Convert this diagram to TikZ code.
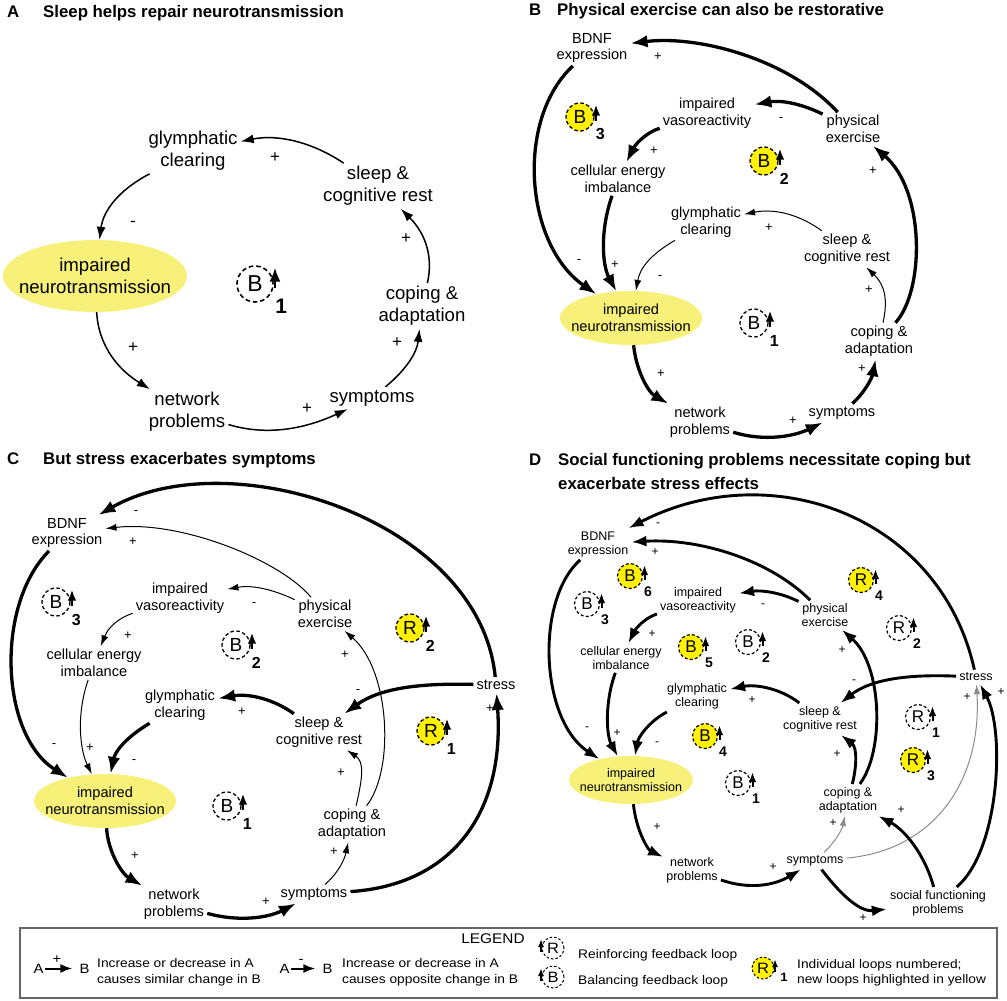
\documentclass[tikz,border=0pt]{standalone}
\usepackage{fontspec}
\setmainfont{Liberation Sans}
\newfontfamily\legfont[FakeStretch=1.1]{Liberation Sans}
\usetikzlibrary{arrows.meta,shapes.geometric,calc}
\definecolor{ellyel}{HTML}{F7F17A}
\definecolor{loopyel}{HTML}{FFF100}
\newcommand\fA{\fontsize{18.6}{22}\selectfont}
\newcommand\fB{\fontsize{14.6}{16.5}\selectfont}
\newcommand\fD{\fontsize{12.5}{14}\selectfont}
\newcommand\fT{\fontsize{16.8}{20}\selectfont\bfseries}
\newcommand\fL{\legfont\fontsize{12.5}{15.5}\selectfont}
\tikzset{
 tA/.style={align=center,inner sep=3pt,font=\fA},
 tB/.style={align=center,inner sep=3pt,font=\fB},
 tD/.style={align=center,inner sep=3pt,font=\fD},
 sA/.style={inner sep=0pt,font=\fontsize{17}{17}\selectfont},
 sB/.style={inner sep=0pt,font=\fontsize{13}{13}\selectfont},
 sD/.style={inner sep=0pt,font=\fontsize{12}{12}\selectfont},
 ttl/.style={inner sep=0pt,anchor=base west,font=\fT},
 ell/.style={ellipse,fill=ellyel,inner sep=0pt},
 arA/.style={line width=1.5pt,-{Latex[length=13pt,width=9pt]}},
 thk/.style={line width=3.3pt,-{Latex[length=17pt,width=12.5pt]}},
 thkD/.style={line width=2.9pt,-{Latex[length=15pt,width=11pt]}},
 thn/.style={line width=1pt,-{Latex[length=11pt,width=7pt]}},
 gry/.style={line width=1pt,draw=black!45,-{Latex[length=10pt,width=6.5pt]}},
 lcA/.style={circle,draw,line width=1.6pt,dash pattern=on 4.5pt off 3pt,minimum size=36pt,inner sep=0pt,font=\fontsize{23}{23}\selectfont},
 laA/.style={line width=2.6pt,-{Latex[length=14pt,width=11pt]}},
 lnA/.style={inner sep=0pt,font=\bfseries\fontsize{21}{21}\selectfont},
 lcB/.style={circle,draw,line width=1.3pt,dash pattern=on 3.5pt off 2.5pt,minimum size=28pt,inner sep=0pt,font=\fontsize{19}{19}\selectfont},
 laB/.style={line width=2.2pt,-{Latex[length=11pt,width=8.5pt]}},
 lnB/.style={inner sep=0pt,font=\bfseries\fontsize{16}{16}\selectfont},
 lcD/.style={circle,draw,line width=1.2pt,dash pattern=on 3pt off 2.2pt,minimum size=25pt,inner sep=0pt,font=\fontsize{17}{17}\selectfont},
 laD/.style={line width=2pt,-{Latex[length=10pt,width=7.5pt]}},
 lnD/.style={inner sep=0pt,font=\bfseries\fontsize{14}{14}\selectfont},
 lcL/.style={circle,draw,line width=1pt,dash pattern=on 2.5pt off 2pt,minimum size=22pt,inner sep=0pt,font=\legfont\fontsize{15}{15}\selectfont},
 laL/.style={line width=1.6pt,-{Latex[length=8pt,width=6pt]}},
 lt/.style={inner sep=0pt,anchor=base west,font=\fL},
 lg/.style={inner sep=1pt,font=\legfont\fontsize{13.5}{13.5}\selectfont},
 legarr/.style={line width=2pt,-{Latex[length=12pt,width=9pt]}},
}
\newcommand\lp[8]{%
  \node[lc#8,fill=#7] (#1) at (#2,#3) {#5};
  \draw[la#8] ([shift={(#4+2,4)}]#1.center) -- ([shift={(#4+2,-#4+1.5)}]#1.center);
  \node[ln#8] (#1n) at ([shift={(1.45*#4,1.25*#4)}]#1.center) {#6};
}
\begin{document}
\begin{tikzpicture}[x=1pt,y=-1pt]
\fill[white] (0,0) rectangle (1007,1001);
\useasboundingbox (0,0) rectangle (1007,1001);

% ---------------- Titles
\node[ttl] (tA) at (7,17) {A};
\node[ttl] (tAt) at (43,17) {Sleep helps repair neurotransmission};
\node[ttl] (tB) at (529,16) {B};
\node[ttl] (tBt) at (557,16) {Physical exercise can also be restorative};
\node[ttl] (tC) at (7,464) {C};
\node[ttl] (tCt) at (43,464) {But stress exacerbates symptoms};
\node[ttl] (tD) at (529,465) {D};
\node[ttl] (tDt) at (558,465) {Social functioning problems necessitate coping but};
\node[ttl] (tDt2) at (558,489) {exacerbate stress effects};

% ---------------- Panel A
\node[ell,minimum width=184pt,minimum height=72pt] (Aimp) at (95,276) {};
\node[tA] (Aimpt) at (Aimp) {impaired\\neurotransmission};
\node[tA] (Aglym) at (193,151) {glymphatic\\clearing};
\node[tA] (Asleep) at (378,186) {sleep \&\\cognitive rest};
\node[tA] (Acop) at (422,306) {coping \&\\adaptation};
\node[tA] (Anet) at (187,412) {network\\problems};
\node[tA] (Asym) at (372,398) {symptoms};
\draw[arA] (Asleep) .. controls (312,142) and (278,134) .. (Aglym);
\draw[arA] (Aglym) .. controls (117,191) and (103,212) .. (Aimp);
\draw[arA] (Aimp) .. controls (98,341) and (114,367) .. (Anet);
\draw[arA] (Anet) .. controls (263,435) and (300,431) .. (Asym);
\draw[arA] (Asym) .. controls (407,369) and (417,352) .. (Acop);
\draw[arA] (Acop) .. controls (433,259) and (427,235) .. (Asleep);
\node[sA] (As1) at (275,158) {+};
\node[sA] (As2) at (133,224) {-};
\node[sA] (As3) at (133,348) {+};
\node[sA] (As4) at (307,409) {+};
\node[sA] (As5) at (397,343) {+};
\node[sA] (As6) at (406,239) {+};
\lp{AL1}{255}{284}{18}{B}{1}{white}{A}

% ---------------- Panel B
\node[ell,minimum width=142pt,minimum height=54pt] (Bimp) at (631,318) {};
\node[tB] (Bimpt) at (Bimp) {impaired\\neurotransmission};
\node[tB] (Bbdnf) at (592,48) {BDNF\\expression};
\node[tB] (Bphys) at (853,129) {physical\\exercise};
\node[tB] (Bvaso) at (707,113) {impaired\\vasoreactivity};
\node[tB] (Bcell) at (618,179) {cellular energy\\imbalance};
\node[tB] (Bglym) at (706,222) {glymphatic\\clearing};
\node[tB] (Bsleep) at (847,249) {sleep \&\\cognitive rest};
\node[tB] (Bcop) at (879,341) {coping \&\\adaptation};
\node[tB] (Bnet) at (700,422) {network\\problems};
\node[tB] (Bsym) at (842,413) {symptoms};
\draw[thk] (Bphys) .. controls (790,60) and (700,35) .. (Bbdnf);
\draw[thk] (Bphys) .. controls (800,103) and (780,100) .. (Bvaso);
\draw[thk] (Bvaso) .. controls (645,133) and (635,145) .. (Bcell);
\draw[thk] (Bbdnf) .. controls (515,120) and (525,245) .. (Bimp);
\draw[thk] (Bcell) .. controls (600,230) and (602,265) .. (Bimp);
\draw[thn] (Bglym) .. controls (650,255) and (640,268) .. (Bimp);
\draw[thn] (Bsleep) .. controls (800,215) and (775,208) .. (Bglym);
\draw[thn] (Bcop) .. controls (888,300) and (885,285) .. (Bsleep);
\draw[thk] (Bcop) .. controls (925,290) and (925,190) .. (Bphys);
\draw[thk] (Bimp) .. controls (636,370) and (648,392) .. (Bnet);
\draw[thk] (Bnet) .. controls (765,442) and (795,436) .. (Bsym);
\draw[thk] (Bsym) .. controls (865,392) and (872,378) .. (Bcop);
\node[sB] (Bs1) at (658,57) {+};
\node[sB] (Bs2) at (781,120) {-};
\node[sB] (Bs3) at (654,151) {+};
\node[sB] (Bs4) at (769,228) {+};
\node[sB] (Bs5) at (873,171) {+};
\node[sB] (Bs6) at (579,262) {-};
\node[sB] (Bs7) at (615,265) {+};
\node[sB] (Bs8) at (660,278) {-};
\node[sB] (Bs9) at (869,290) {+};
\node[sB] (Bs10) at (661,374) {+};
\node[sB] (Bs11) at (793,421) {+};
\node[sB] (Bs12) at (862,369) {+};
\lp{BL3}{580}{117}{14}{B}{3}{loopyel}{B}
\lp{BL2}{764}{161}{14}{B}{2}{loopyel}{B}
\lp{BL1}{754}{323}{14}{B}{1}{white}{B}

% ---------------- Panel C
\node[ell,minimum width=142pt,minimum height=54pt] (Cimp) at (105,801) {};
\node[tB] (Cimpt) at (Cimp) {impaired\\neurotransmission};
\node[tB] (Cbdnf) at (67,533) {BDNF\\expression};
\node[tB] (Cphys) at (325,614) {physical\\exercise};
\node[tB] (Cvaso) at (180,598) {impaired\\vasoreactivity};
\node[tB] (Ccell) at (94,663) {cellular energy\\imbalance};
\node[tB] (Cglym) at (180,705) {glymphatic\\clearing};
\node[tB] (Csleep) at (319,732) {sleep \&\\cognitive rest};
\node[tB] (Cstress) at (496,685) {stress};
\node[tB] (Ccop) at (352,824) {coping \&\\adaptation};
\node[tB] (Cnet) at (174,904) {network\\problems};
\node[tB] (Csym) at (314,894) {symptoms};
\draw[thk] (Cstress) .. controls (480,520) and (230,440) .. (Cbdnf);
\draw[thn] (Cphys) .. controls (280,560) and (180,520) .. (Cbdnf);
\draw[thn] (Cphys) .. controls (270,588) and (250,585) .. (Cvaso);
\draw[thn] (Cvaso) .. controls (118,618) and (108,628) .. (Ccell);
\draw[thk] (Cbdnf) .. controls (-5,605) and (0,735) .. (Cimp);
\draw[thn] (Ccell) .. controls (76,715) and (80,750) .. (Cimp);
\draw[thk] (Cglym) .. controls (125,738) and (115,752) .. (Cimp);
\draw[thk] (Csleep) .. controls (275,700) and (250,693) .. (Cglym);
\draw[thk] (Cstress) .. controls (420,683) and (380,688) .. (Csleep);
\draw[thn] (Ccop) .. controls (362,780) and (365,762) .. (Csleep);
\draw[thn] (Ccop) .. controls (395,770) and (390,670) .. (Cphys);
\draw[thk] (Cimp) .. controls (108,852) and (122,874) .. (Cnet);
\draw[thk] (Cnet) .. controls (238,922) and (268,918) .. (Csym);
\draw[thn] (Csym) .. controls (336,875) and (344,862) .. (Ccop);
\draw[thk] (Csym) .. controls (450,885) and (505,815) .. (Cstress);
\node[sB] (Cs1) at (136,513) {-};
\node[sB] (Cs2) at (133,542) {+};
\node[sB] (Cs3) at (254,605) {-};
\node[sB] (Cs4) at (128,636) {+};
\node[sB] (Cs5) at (54,746) {-};
\node[sB] (Cs6) at (90,748) {+};
\node[sB] (Cs7) at (134,762) {-};
\node[sB] (Cs8) at (242,712) {+};
\node[sB] (Cs9) at (358,692) {-};
\node[sB] (Cs10) at (345,655) {+};
\node[sB] (Cs11) at (341,773) {+};
\node[sB] (Cs12) at (334,852) {+};
\node[sB] (Cs13) at (135,856) {+};
\node[sB] (Cs14) at (266,902) {+};
\node[sB] (Cs15) at (490,709) {+};
\lp{CL3}{56}{602}{14}{B}{3}{white}{B}
\lp{CL2}{236}{645}{14}{B}{2}{white}{B}
\lp{CR2}{410}{628}{14}{R}{2}{loopyel}{B}
\lp{CR1}{431}{731}{14}{R}{1}{loopyel}{B}
\lp{CL1}{227}{806}{14}{B}{1}{white}{B}

% ---------------- Panel D
\node[ell,minimum width=124pt,minimum height=48pt] (Dimp) at (631,780) {};
\node[tD] (Dimpt) at (Dimp) {impaired\\neurotransmission};
\node[tD] (Dbdnf) at (598,544) {BDNF\\expression};
\node[tD] (Dvaso) at (698,600) {impaired\\vasoreactivity};
\node[tD] (Dphys) at (825,615) {physical\\exercise};
\node[tD] (Dcell) at (621,658) {cellular energy\\imbalance};
\node[tD] (Dstress) at (976,677) {stress};
\node[tD] (Dglym) at (697,696) {glymphatic\\clearing};
\node[tD] (Dsleep) at (820,719) {sleep \&\\cognitive rest};
\node[tD] (Dcop) at (848,800) {coping \&\\adaptation};
\node[tD] (Dnet) at (692,870) {network\\problems};
\node[tD] (Dsym) at (815,861) {symptoms};
\node[tD] (Dsoc) at (938,903) {social functioning\\problems};
\draw[thkD] (Dstress) .. controls (940,515) and (770,455) .. (Dbdnf);
\draw[thkD] (Dphys) .. controls (770,560) and (700,538) .. (Dbdnf);
\draw[thkD] (Dphys) .. controls (780,592) and (760,590) .. (Dvaso);
\draw[thkD] (Dvaso) .. controls (645,618) and (636,628) .. (Dcell);
\draw[thkD] (Dbdnf) .. controls (535,600) and (540,720) .. (Dimp);
\draw[thkD] (Dcell) .. controls (605,700) and (606,735) .. (Dimp);
\draw[thkD] (Dglym) .. controls (648,722) and (638,738) .. (Dimp);
\draw[thkD] (Dsleep) .. controls (780,688) and (755,684) .. (Dglym);
\draw[thkD] (Dstress) .. controls (905,674) and (870,680) .. (Dsleep);
\draw[thkD] (Dcop) .. controls (856,770) and (858,748) .. (Dsleep);
\draw[thkD] (Dcop) .. controls (885,750) and (882,665) .. (Dphys);
\draw[thkD] (Dimp) .. controls (636,830) and (648,850) .. (Dnet);
\draw[thkD] (Dnet) .. controls (750,890) and (775,885) .. (Dsym);
\draw[gry] (Dsym) .. controls (835,842) and (842,830) .. (Dcop);
\draw[gry] (Dsym) .. controls (935,850) and (982,780) .. (Dstress);
\draw[thkD] (Dsym) .. controls (845,900) and (862,912) .. (Dsoc);
\draw[thkD] (Dsoc) .. controls (925,855) and (905,830) .. (Dcop);
\draw[thkD] (Dsoc) .. controls (1000,850) and (1005,730) .. (Dstress);
\node[sD] (Ds1) at (658,525) {-};
\node[sD] (Ds2) at (655,552) {+};
\node[sD] (Ds3) at (763,606) {-};
\node[sD] (Ds4) at (652,634) {+};
\node[sD] (Ds5) at (587,729) {-};
\node[sD] (Ds6) at (617,733) {+};
\node[sD] (Ds7) at (657,744) {-};
\node[sD] (Ds8) at (752,700) {+};
\node[sD] (Ds9) at (854,682) {-};
\node[sD] (Ds10) at (842,650) {+};
\node[sD] (Ds11) at (837,754) {+};
\node[sD] (Ds12) at (833,823) {+};
\node[sD] (Ds13) at (901,810) {+};
\node[sD] (Ds14) at (657,827) {+};
\node[sD] (Ds15) at (773,867) {+};
\node[sD] (Ds16) at (863,918) {+};
\node[sD] (Ds17) at (967,697) {+};
\node[sD] (Ds18) at (1001,692) {+};
\lp{DB6}{630}{576}{12.5}{B}{6}{loopyel}{D}
\lp{DB3}{587}{604}{12.5}{B}{3}{white}{D}
\lp{DR4}{861}{580}{12.5}{R}{4}{loopyel}{D}
\lp{DR2}{899}{628}{12.5}{R}{2}{white}{D}
\lp{DB5}{691}{647}{12.5}{B}{5}{loopyel}{D}
\lp{DB2}{748}{642}{12.5}{B}{2}{white}{D}
\lp{DR1}{918}{717}{12.5}{R}{1}{white}{D}
\lp{DR3}{913}{760}{12.5}{R}{3}{loopyel}{D}
\lp{DB4}{705}{736}{12.5}{B}{4}{loopyel}{D}
\lp{DB1}{738}{783}{12.5}{B}{1}{white}{D}

% ---------------- Legend
\draw[draw=black!60,line width=1.2pt] (20,928) rectangle (997,998);
\node[inner sep=0pt,anchor=base,font=\legfont\fontsize{14}{14}\selectfont] (leg) at (493,943.5) {LEGEND};
\node[lg] (LA1) at (38.5,968.5) {A};
\node[lg] (LB1) at (84.5,968.5) {B};
\draw[legarr,shorten >=6pt] (LA1) -- (LB1);
\node[lg] (Lp1) at (57,960) {+};
\node[lt] (Lt1) at (97,967) {Increase or decrease in A};
\node[lt] (Lt2) at (97,983) {causes similar change in B};
\node[lg] (LA2) at (284.5,968.5) {A};
\node[lg] (LB2) at (327.5,968.5) {B};
\draw[legarr,shorten >=6pt] (LA2) -- (LB2);
\node[lg] (Lm2) at (301,961) {-};
\node[lt] (Lt3) at (342,967) {Increase or decrease in A};
\node[lt] (Lt4) at (342,983) {causes opposite change in B};
\node[lcL,fill=white] (LR) at (553,948) {R};
\draw[laL] ([shift={(-12,4)}]LR.center) -- ([shift={(-12,-9)}]LR.center);
\node[lt] (Lt5) at (578,958) {Reinforcing feedback loop};
\node[lcL,fill=white] (LBl) at (553,977) {B};
\draw[laL] ([shift={(-12,4)}]LBl.center) -- ([shift={(-12,-9)}]LBl.center);
\node[lt] (Lt6) at (578,984) {Balancing feedback loop};
\node[lcL,fill=loopyel] (LY) at (763,968) {R};
\draw[laL] ([shift={(12,4)}]LY.center) -- ([shift={(12,-9)}]LY.center);
\node[inner sep=0pt,font=\legfont\bfseries\fontsize{12}{12}\selectfont] (LY1) at (784,977) {1};
\node[lt] (Lt7) at (797,968) {Individual loops numbered;};
\node[lt] (Lt8) at (797,983) {new loops highlighted in yellow};
\end{tikzpicture}
\end{document}
